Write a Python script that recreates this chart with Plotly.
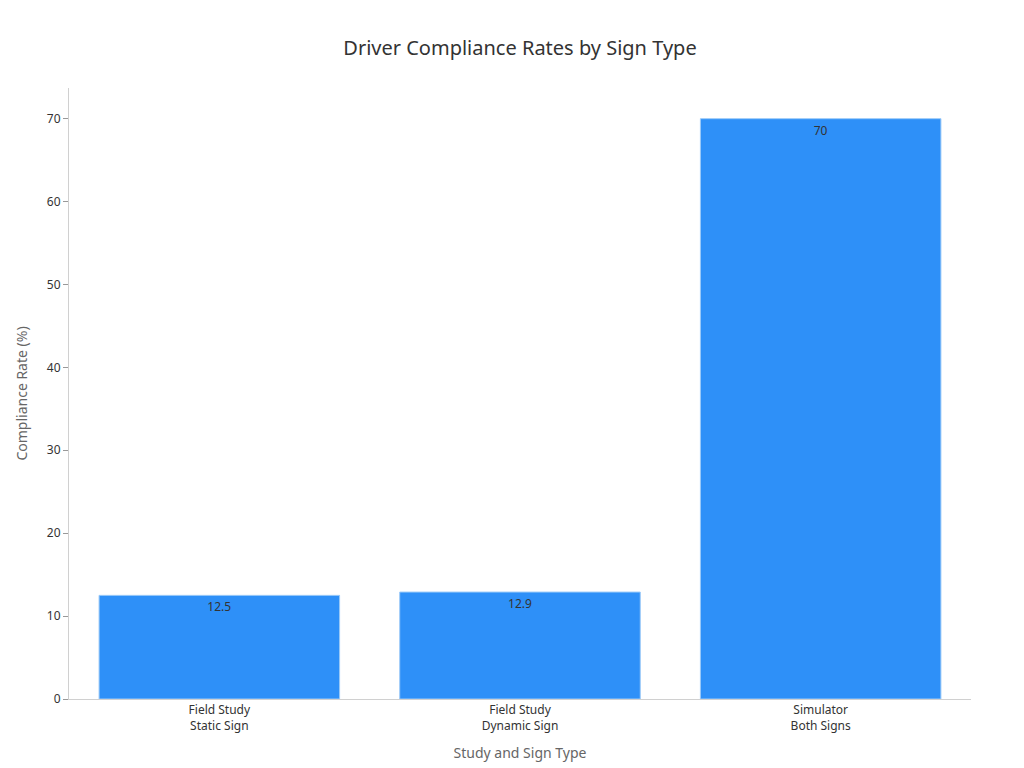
import plotly.graph_objects as go

categories = ["Field Study<br>Static Sign", "Field Study<br>Dynamic Sign", "Simulator<br>Both Signs"]
rates = [12.5, 12.9, 70]

fig = go.Figure(go.Bar(
    x=categories, y=rates, text=[str(r) for r in rates],
    textposition="inside", insidetextanchor="end",
    textfont=dict(color="#333333", size=12),
    marker=dict(color="#2E90F8", line=dict(color="#9ccaf8", width=1)),
    width=0.8,
))

fig.update_layout(
    width=1024, height=768,
    title=dict(text="Driver Compliance Rates by Sign Type", x=0.5, y=0.957,
               font=dict(size=20, color="#333333")),
    font=dict(family="Noto Sans, DejaVu Sans, sans-serif", size=12, color="#333333"),
    plot_bgcolor="white", paper_bgcolor="white",
    margin=dict(l=61, r=61, t=80, b=77),
    showlegend=False,
)
fig.update_xaxes(title=dict(text="Study and Sign Type", font=dict(size=14, color="#666666")),
                 showline=True, linecolor="#d0d0d0", ticks="")
fig.update_yaxes(title=dict(text="Compliance Rate (%)", font=dict(size=14, color="#666666")),
                 range=[0, 73.7], dtick=10, showgrid=False, showline=True,
                 linecolor="#d0d0d0", ticks="outside", tickcolor="#999999", ticklen=5,
                 zeroline=False)

fig.write_html("out.html")
